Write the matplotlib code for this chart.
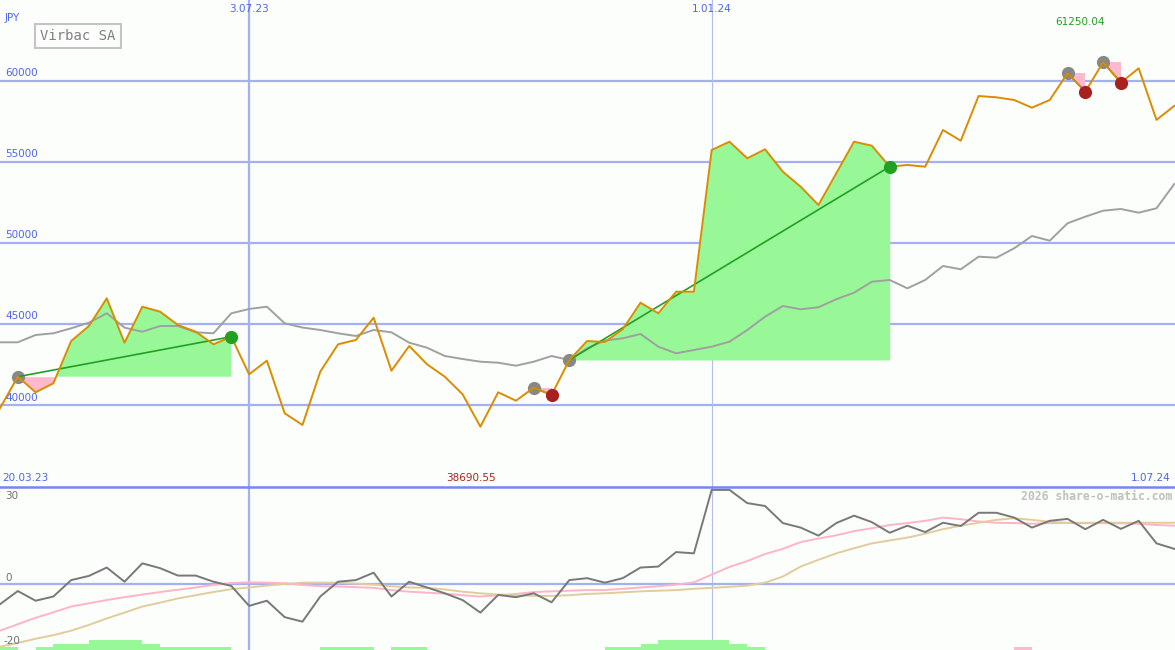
import matplotlib
matplotlib.use("Agg")
import matplotlib.pyplot as plt
import matplotlib.transforms as mtransforms
import numpy as np

# weekly closes, 27.03.23 .. 1.07.24 (index 0..66)
price = [39830, 41773, 40813, 41367, 43972, 44895, 46601, 43867, 46084, 45776,
         44957, 44544, 43768, 44236, 41921, 42759, 39520, 38800, 42081, 43768,
         44033, 45406, 42143, 43664, 42537, 41773, 40690, 38695, 40813, 40296,
         41096, 40647, 42802, 43972, 43910, 44692, 46330, 45677, 47007, 47007,
         55733, 56244, 55222, 55776, 54397, 53473, 52346, 54295, 56244, 55998,
         54705, 54810, 54705, 56964, 56305, 59057, 58977, 58812, 58338, 58812,
         60456, 59327, 61133, 59882, 60764, 57586, 58448]

avg = [43892, 43892, 44341, 44446, 44754, 45098, 45677, 44795, 44544, 44895,
       44895, 44505, 44446, 45677, 45942, 46084, 45062, 44800, 44649, 44446,
       44280, 44649, 44505, 43867, 43559, 43048, 42863, 42697, 42635, 42451,
       42697, 43048, 42802, 43522, 44000, 44138, 44403, 43621, 43214, 43417,
       43621, 43929, 44649, 45468, 46127, 45924, 46047, 46540, 46946, 47623,
       47728, 47217, 47728, 48590, 48387, 49163, 49101, 49680, 50437, 50148,
       51219, 51626, 51995, 52100, 51872, 52143, 53639]

# trades: buy index -> sell index
buy_idx = [1, 30, 32, 60, 62]
sell_idx = [13, 31, 50, 61, 63]

# lower panel
momentum = [-6.4, -2.3, -5.3, -4.0, 1.1, 2.4, 5.0, 0.6, 6.3, 4.8,
            2.5, 2.5, 0.6, -0.7, -6.9, -5.3, -10.4, -11.8, -4.0, 0.6,
            1.1, 3.4, -4.0, 0.6, -1.2, -3.0, -5.1, -9.0, -3.5, -4.2,
            -3.0, -5.8, 1.1, 1.7, 0.3, 1.7, 5.0, 5.3, 9.8, 9.4,
            29.1, 29.1, 25.0, 24.1, 18.8, 17.4, 14.9, 18.8, 21.1, 19.1,
            15.8, 18.0, 16.0, 18.9, 17.9, 22.0, 22.0, 20.5, 17.4, 19.5,
            20.1, 16.9, 19.8, 17.0, 19.5, 12.5, 10.8]
signal_fast = [-14.6, -12.6, -10.6, -8.9, -7.1, -6.1, -5.1, -4.2, -3.4, -2.6,
               -1.9, -1.2, -0.4, 0.2, 0.4, 0.3, 0.1, -0.4, -0.8, -0.9,
               -1.1, -1.3, -2.0, -2.5, -2.8, -3.1, -3.6, -4.0, -3.6, -3.2,
               -2.6, -2.4, -2.2, -2.0, -2.0, -1.6, -1.2, -0.8, -0.3, 0.4,
               2.8, 5.2, 7.0, 9.2, 10.8, 12.9, 14.0, 15.0, 16.3, 17.2,
               18.2, 18.8, 19.5, 20.5, 20.0, 19.3, 18.9, 18.8, 18.6, 18.8,
               18.8, 18.8, 18.8, 18.7, 18.6, 18.2, 18.0]
signal_slow = [-19.6, -18.4, -17.1, -16.0, -14.6, -12.8, -10.8, -9.0, -7.1, -5.9,
               -4.6, -3.6, -2.6, -1.7, -1.2, -0.6, -0.1, 0.3, 0.3, 0.3,
               0.0, -0.3, -0.8, -1.2, -1.3, -1.8, -2.5, -3.0, -3.4, -3.6,
               -3.8, -3.8, -3.6, -3.2, -3.0, -2.7, -2.4, -2.2, -2.0, -1.6,
               -1.3, -1.0, -0.6, 0.3, 2.2, 5.3, 7.4, 9.4, 11.0, 12.5,
               13.4, 14.3, 15.5, 16.9, 18.0, 18.9, 19.8, 20.3, 19.8, 19.2,
               18.9, 18.9, 18.9, 18.9, 18.9, 18.9, 18.9]
# histogram per week interval (sign = colour)
hist = [1, 0, 1, 2, 2, 3, 3, 3, 2, 1, 1, 1, 1, 0, 0, 0, 0, 0, 1, 1,
        1, 0, 1, 1, 0, 0, 0, 0, 0, 0, 0, 0, 0, 0, 1, 1, 2, 3, 3, 3,
        3, 2, 1, 0, 0, 0, 0, 0, 0, 0, 0, 0, 0, 0, 0, 0, 0, -1, 0, 0,
        0, 0, 0, 0, 0, 0]

date_ticks = [14, 40]
date_labels = ['3.07.23', '1.01.24']
price_levels = [40000, 45000, 50000, 55000, 60000]

bg = '#fbfefb'
grid_c = '#a4b0f0'
blue_txt = '#5064f0'

x = np.arange(len(price))
p = np.array(price, dtype=float)

fig = plt.figure(figsize=(11.75, 6.5), dpi=100, facecolor=bg)
ax = fig.add_axes([0, 163 / 650, 1, 487 / 650])
ax2 = fig.add_axes([0, 0, 1, 163 / 650])
for a in (ax, ax2):
    a.set_facecolor(bg)
    a.set_xlim(0, 66.04)
    a.set_xticks([])
    a.set_yticks([])
    for s in a.spines.values():
        s.set_visible(False)
ax.set_ylim(34981, 64969)
ax2.set_ylim(-20.6, 30.0)

# grid
for lv in price_levels:
    ax.axhline(lv, color=grid_c, lw=1.6, zorder=1)
ax.axvline(date_ticks[0], color=grid_c, lw=1.6, zorder=1)
ax.axvline(date_ticks[1], color='#b4bcf0', lw=0.8, zorder=1)
ax2.axvline(date_ticks[0], color=grid_c, lw=1.6, zorder=1)
ax2.axvline(date_ticks[1], color='#b4bcf0', lw=0.8, zorder=1)
ax2.axhline(0, color=grid_c, lw=1.6, zorder=1)
ax2.axhline(30.0, color='#7486f0', lw=1.8, zorder=5, clip_on=False)

# trade fills
for b, s in zip(buy_idx, sell_idx):
    xs = x[b:s + 1]
    ys = p[b:s + 1]
    base = p[b]
    ax.fill_between(xs, base, ys, where=ys >= base, interpolate=True,
                    color='#98f898', lw=0, zorder=2)
    ax.fill_between(xs, base, ys, where=ys < base, interpolate=True,
                    color='#ffb8cc', lw=0, zorder=2)

ax.plot(x, avg, color='#a0a0a0', lw=1.4, zorder=3)
ax.plot(x, p, color='#dc8c00', lw=1.4, zorder=4)

for b, s in zip(buy_idx, sell_idx):
    ax.plot([b, s], [p[b], p[s]], color='#22a022', lw=1.2, zorder=3.8)
    ax.plot(b, p[b], 'o', ms=9.5, color='#888888', mec='none', zorder=3.5)
    end_c = '#22a022' if p[s] > p[b] else '#a82020'
    ax.plot(s, p[s], 'o', ms=9.5, color=end_c, mec='none', zorder=6)

# labels main panel
tr = mtransforms.blended_transform_factory(ax.transAxes, ax.transData)
for lv in price_levels:
    ax.text(5 / 1175, lv + 180, str(lv), transform=tr, fontsize=7.5,
            color=blue_txt, va='bottom', ha='left', zorder=7)
trx = mtransforms.blended_transform_factory(ax.transData, ax.transAxes)
for d, lab in zip(date_ticks, date_labels):
    ax.text(d, 1 - 9 / 487, lab, transform=trx, fontsize=7.5, color=blue_txt,
            ha='center', va='center')
fig.text(5 / 1175, 1 - 18 / 650, 'JPY', fontsize=7.5, color=blue_txt,
         ha='left', va='center')
fig.text(78 / 1175, 1 - 36 / 650, 'Virbac SA', fontsize=10, color='#808080',
         family='DejaVu Sans Mono', ha='center', va='center',
         bbox=dict(boxstyle='square,pad=0.35', fc=bg, ec='#c4c4c4', lw=1.5))
fig.text(1080 / 1175, 1 - 22 / 650, '61250.04', fontsize=7.5, color='#20a020',
         ha='center', va='center')
fig.text(471 / 1175, 1 - 478 / 650, '38690.55', fontsize=7.5, color='#b02020',
         ha='center', va='center')
fig.text(2 / 1175, 1 - 478 / 650, '20.03.23', fontsize=7.5, color=blue_txt,
         ha='left', va='center')
fig.text(1171 / 1175, 1 - 478 / 650, '1.07.24', fontsize=7.5, color=blue_txt,
         ha='right', va='center')

# lower panel
bottom = ax2.get_ylim()[0]
for i, h in enumerate(hist):
    if h == 0:
        continue
    c = '#98f898' if h > 0 else '#ffb8cc'
    ax2.bar(i, abs(h) * 1.0, width=1.0, bottom=bottom, align='edge',
            color=c, lw=0, zorder=2)
ax2.plot(x, signal_fast, color='#ffb4c8', lw=1.4, zorder=3)
ax2.plot(x, signal_slow, color='#e2cc9c', lw=1.4, zorder=3)
ax2.plot(x, momentum, color='#787878', lw=1.4, zorder=4)

fig.text(5 / 1175, 1 - 496 / 650, '30', fontsize=7.5, color='#707070',
         ha='left', va='center')
fig.text(5 / 1175, 1 - 578 / 650, '0', fontsize=7.5, color='#707070',
         ha='left', va='center')
fig.text(3 / 1175, 1 - 641 / 650, '-20', fontsize=7.5, color='#707070',
         ha='left', va='center')
fig.text(1172 / 1175, 1 - 496 / 650, '2026 share-o-matic.com', fontsize=8.3,
         color='#c0c0c0', family='DejaVu Sans Mono', weight='bold',
         ha='right', va='center')

fig.savefig('out.png', dpi=100, facecolor=bg)
